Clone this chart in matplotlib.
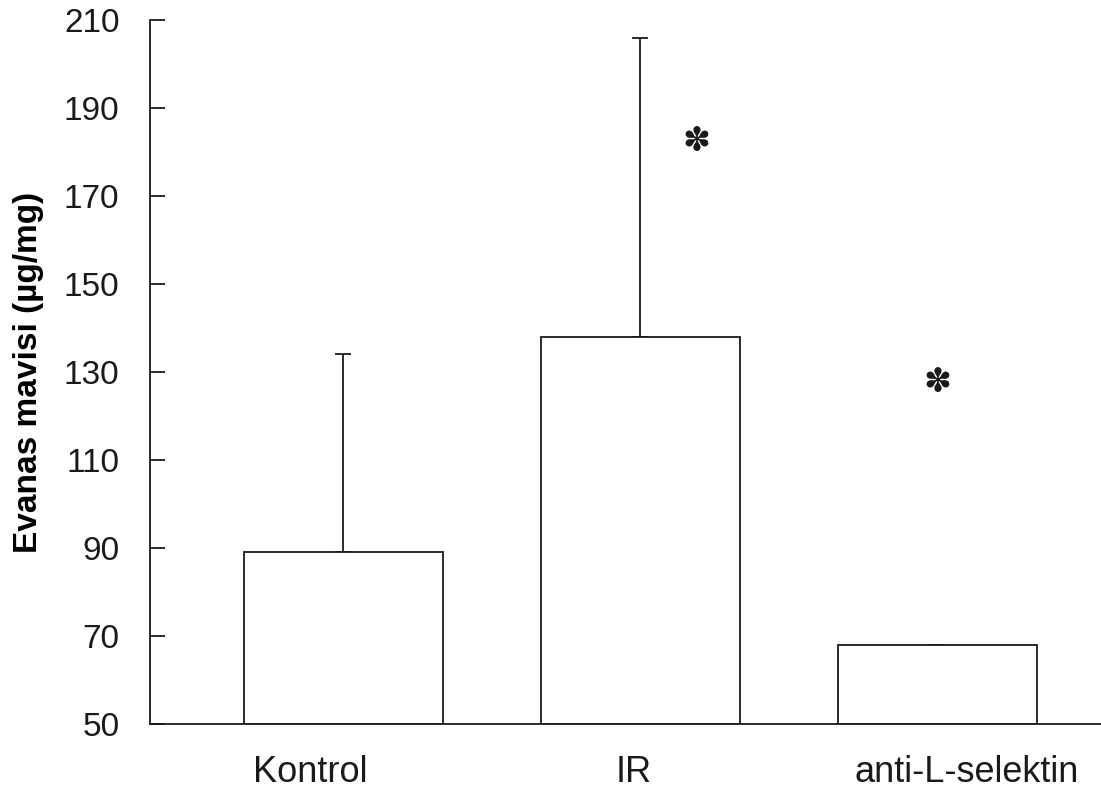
import numpy as np
import matplotlib
matplotlib.use("Agg")
import matplotlib.pyplot as plt

plt.rcParams['font.family'] = ['Liberation Sans', 'DejaVu Sans']

# data
groups = ['Kontrol', 'IR', 'anti-L-selektin']
means = [89, 138, 68]
sd_up = [45, 68, 0]
star_y = [None, 182.5, 127.5]
star_dx = [0, 0.19, 0]
yticks = [50, 70, 90, 110, 130, 150, 170, 190, 210]

# the printed labels are not quite centred under the bars
label_dx = [-0.11, -0.02, 0.10]

fig = plt.figure(figsize=(11.01, 7.94), dpi=100)
ax = fig.add_axes([0.1362, 0.0882, 0.8638, 0.8866])

x = np.arange(len(groups))
ax.bar(x, [m - 50 for m in means], bottom=50, width=0.67,
       color='white', edgecolor='#1a1a1a', linewidth=1.3, zorder=2)
ax.errorbar(x, means, yerr=[np.zeros(len(x)), sd_up], fmt='none',
            ecolor='#1a1a1a', elinewidth=1.3, capsize=6, capthick=1.3, zorder=1)

for xi, sy, dx in zip(x, star_y, star_dx):
    if sy is not None:
        ax.text(xi + dx, sy, '✽', ha='center', va='center', fontsize=24,
                family=['DejaVu Sans'], color='#1a1a1a')

ax.set_xlim(-0.65, 2.552)
ax.set_ylim(50, 210)
ax.set_yticks(yticks)
ax.tick_params(axis='y', direction='in', length=11, width=1.3,
               labelsize=24, pad=22, colors='#1a1a1a')
ax.set_xticks(x + np.array(label_dx))
ax.set_xticklabels(groups)
ax.tick_params(axis='x', length=0, labelsize=26, pad=22, colors='#1a1a1a')

for s in ['top', 'right']:
    ax.spines[s].set_visible(False)
for s in ['left', 'bottom']:
    ax.spines[s].set_linewidth(1.3)
    ax.spines[s].set_color('#1a1a1a')

ax.set_ylabel('Evanas mavisi (µg/mg)', fontsize=24, fontweight='bold', labelpad=14)

fig.savefig('out.png', dpi=100)
